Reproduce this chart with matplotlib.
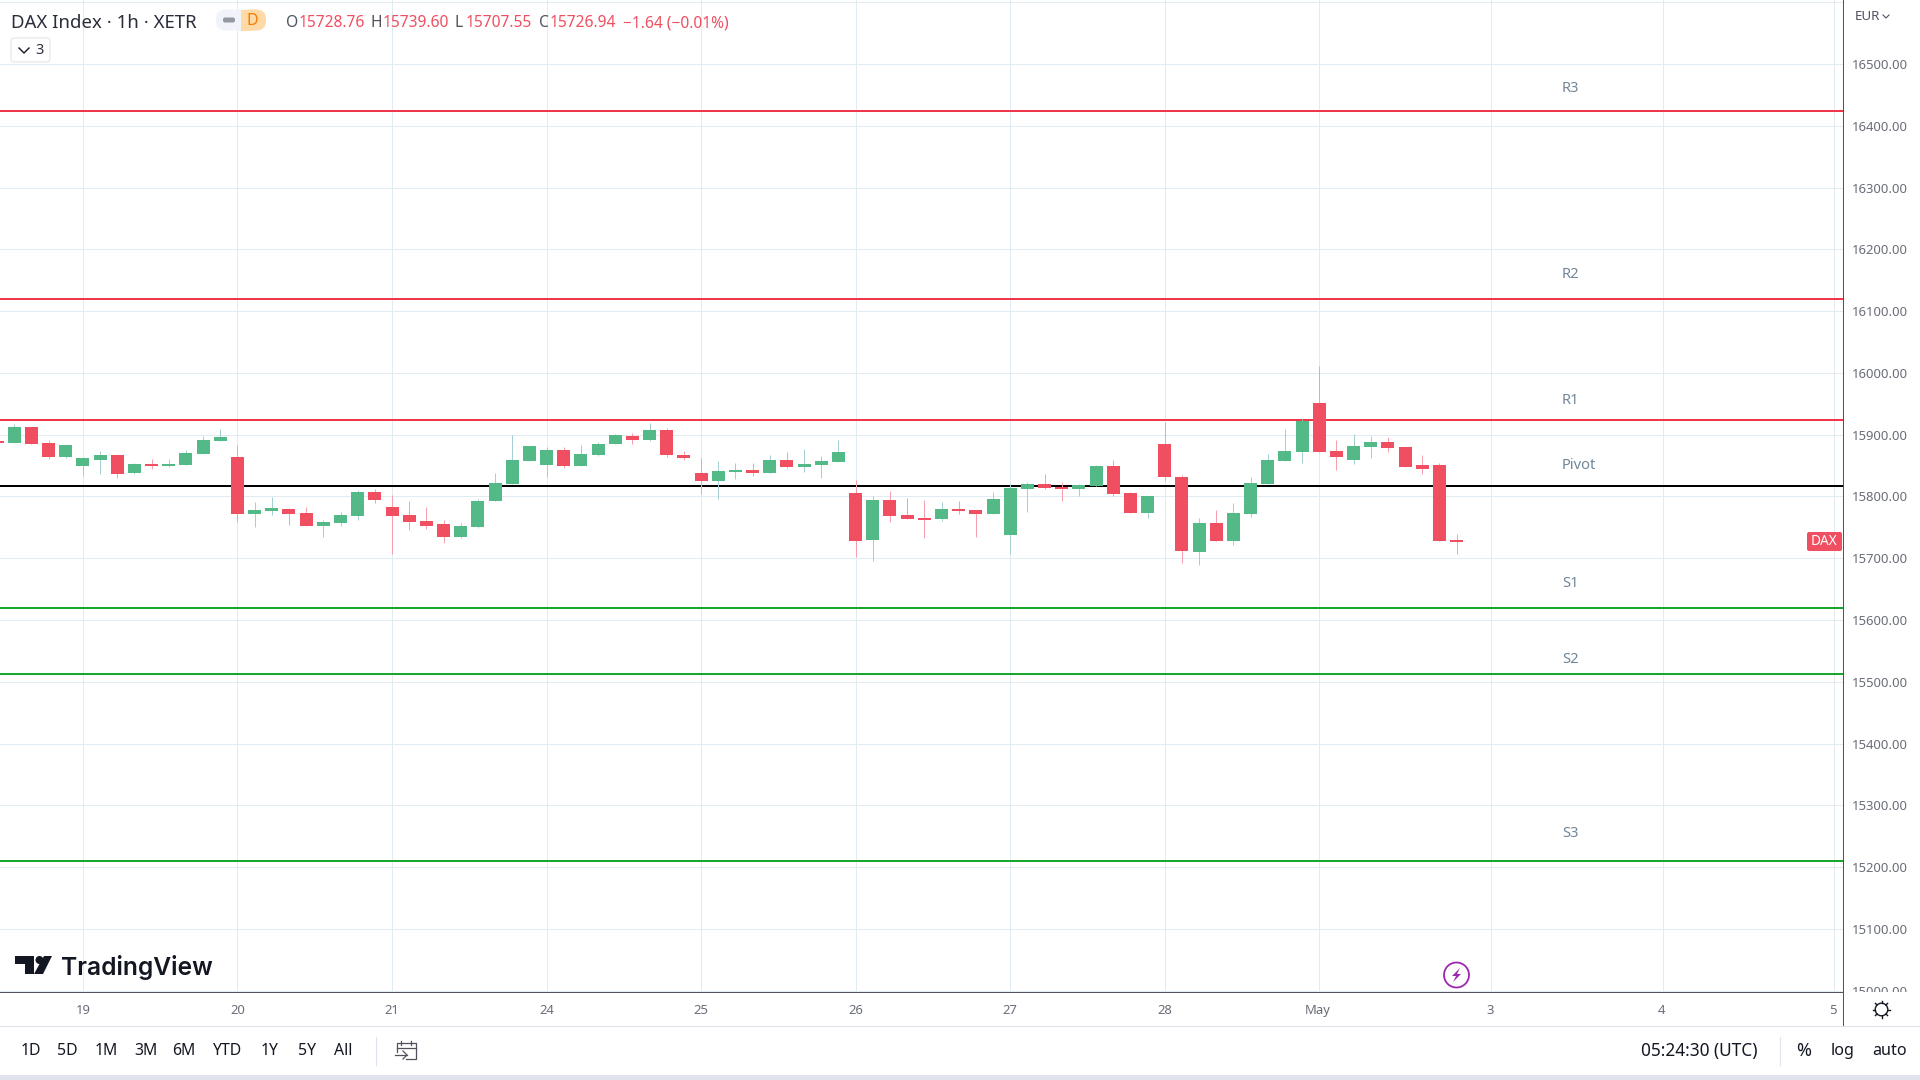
import matplotlib
matplotlib.use("Agg")
import matplotlib.pyplot as plt
import numpy as np
from matplotlib.patches import Rectangle, Polygon, Circle, FancyBboxPatch
from matplotlib.transforms import Bbox, ScaledTranslation

plt.rcParams['font.family'] = ['Noto Sans', 'DejaVu Sans']

opens = [15890.1,15886.8,15912.8,15886.8,15864.2,15849.6,15859.3,15867.4,15838.2,15852.8,
         15849.6,15851.2,15869.0,15890.1,15864.2,15771.8,15776.7,15779.9,15773.4,15752.4,
         15757.2,15768.6,15807.5,15783.2,15770.2,15760.5,15755.6,15734.6,15750.8,15792.9,
         15820.4,15857.7,15851.2,15875.5,15849.6,15867.4,15885.2,15898.2,15891.7,15907.9,
         15867.4,15838.2,15825.3,15839.9,15843.1,15838.2,15859.3,15848.0,15851.2,15856.1,
         15805.8,15729.7,15794.5,15770.2,15765.3,15763.7,15779.9,15778.3,15771.8,15737.8,
         15812.3,15820.4,15815.6,15812.3,15817.2,15849.6,15805.8,15773.4,15885.2,15831.8,
         15710.3,15757.2,15728.1,15771.8,15820.4,15857.7,15872.3,15951.6,15873.9,15859.3,
         15880.4,15888.5,15880.4,15851.2,15851.2,15728.76]
highs = [15890.1,15917.6,15912.8,15891.7,15883.6,15864.2,15873.9,15867.4,15854.4,15860.9,
         15860.9,15875.5,15898.2,15909.5,15883.6,15791.3,15799.4,15781.5,15783.2,15762.1,
         15775.1,15810.7,15812.3,15802.6,15792.9,15783.2,15762.1,15757.2,15796.1,15838.2,
         15899.8,15882.0,15880.4,15880.4,15883.6,15888.5,15901.4,15903.0,15919.2,15911.1,
         15873.9,15862.5,15857.7,15854.4,15854.4,15867.4,15872.3,15877.1,15865.8,15891.7,
         15826.9,15801.0,15809.1,15797.7,15794.5,15791.3,15792.9,15778.3,15807.5,15820.4,
         15823.7,15836.6,15823.7,15820.4,15851.2,15859.3,15807.5,15801.0,15920.9,15835.0,
         15765.3,15778.3,15789.6,15831.8,15869.0,15909.5,15925.0,16011.6,15891.7,15901.4,
         15898.2,15896.6,15880.4,15867.4,15854.4,15739.60]
lows = [15886.8,15886.8,15885.2,15860.9,15862.5,15833.4,15836.6,15830.1,15836.6,15844.7,
        15848.0,15851.2,15869.0,15890.1,15758.9,15750.8,15770.2,15754.0,15752.4,15734.6,
        15752.4,15762.1,15789.6,15707.0,15745.9,15747.5,15724.8,15732.9,15749.1,15792.9,
        15820.4,15857.7,15831.8,15846.3,15849.6,15865.8,15885.2,15885.2,15890.1,15864.2,
        15859.3,15804.2,15796.1,15828.5,15833.4,15838.2,15846.3,15839.9,15830.1,15856.1,
        15702.2,15695.7,15758.9,15763.7,15732.9,15760.5,15771.8,15734.6,15771.8,15707.0,
        15775.1,15812.3,15792.9,15801.0,15817.2,15801.0,15773.4,15765.3,15825.3,15692.4,
        15689.2,15728.1,15721.6,15767.0,15820.4,15857.7,15854.4,15872.3,15843.1,15852.8,
        15862.5,15872.3,15848.0,15836.6,15728.1,15707.55]
closes = [15886.8,15912.8,15885.2,15864.2,15883.6,15862.5,15867.4,15836.6,15852.8,15849.6,
          15852.8,15870.6,15891.7,15896.6,15771.8,15778.3,15781.5,15771.8,15752.4,15758.9,
          15770.2,15807.5,15794.5,15768.6,15758.9,15752.4,15734.6,15752.4,15792.9,15822.0,
          15859.3,15882.0,15875.5,15849.6,15869.0,15885.2,15899.8,15891.7,15907.9,15867.4,
          15862.5,15825.3,15841.5,15843.1,15838.2,15859.3,15848.0,15852.8,15857.7,15872.3,
          15728.1,15794.5,15768.6,15763.7,15763.7,15779.9,15776.7,15771.8,15796.1,15813.9,
          15820.4,15813.9,15812.3,15818.8,15849.6,15804.2,15773.4,15801.0,15831.8,15711.9,
          15757.2,15728.1,15773.4,15822.0,15859.3,15873.9,15922.5,15872.3,15864.2,15882.0,
          15888.5,15878.7,15848.0,15844.7,15728.1,15726.94]

level_names = ['R3', 'R2', 'R1', 'Pivot', 'S1', 'S2', 'S3']
level_values = [16424.5, 16120.1, 15924.0, 15817.2, 15619.8, 15512.4, 15209.6]
level_colors = ['#f2364a', '#f2364a', '#f2364a', '#000000', '#17a62e', '#17a62e', '#17a62e']
level_label_prices = [16461.0, 16160.0, 15956.0, 15849.5, 15658.5, 15535.5, 15254.0]

y_ticks = [15000 + 100 * k for k in range(17)]
y_labels = ['%d.00' % v if v != 16600 else '' for v in y_ticks]
x_ticks = [5, 14, 23, 32, 41, 50, 59, 68, 77, 87, 97, 107]
x_labels = ['19', '20', '21', '24', '25', '26', '27', '28', 'May', '3', '4', '5']

W, H = 1920, 1080
fig = plt.figure(figsize=(19.2, 10.8), dpi=100, facecolor='white')
ax = fig.add_axes([0, (H - 992) / H, 1843 / W, 992 / H])
ax.set_facecolor('white')
ax.set_xlim(0.17, 107.5)
ax.set_ylim(14997.9, 16603.6)

GRID = '#e1ecf2'
AXIS = '#50535e'
TICK = '#6a6d78'
px = 0.72
ax.set_axisbelow(True)
ax.grid(True, color=GRID, lw=px)
for s in ('top', 'left'):
    ax.spines[s].set_visible(False)
for s in ('right', 'bottom'):
    ax.spines[s].set_color(AXIS)
    ax.spines[s].set_linewidth(px)
ax.yaxis.tick_right()
ax.set_yticks(y_ticks)
ax.set_yticklabels(y_labels, fontsize=9.4, color=TICK)
ax.set_xticks(x_ticks)
ax.set_xticklabels(x_labels, fontsize=9.4, color=TICK)
ax.tick_params(axis='y', length=0, pad=6.3)
ax.tick_params(axis='x', length=0, pad=8.4)
nudge = ScaledTranslation(-1.3 / 100, 0, fig.dpi_scale_trans)
for lab in ax.get_xticklabels():
    if lab.get_text() in ('May', '3', '4', '5'):
        lab.set_transform(lab.get_transform() + nudge)
    if lab.get_text() == 'May':
        lab.set_fontweight('bold')

clip_px = Bbox([[0, H - 992], [W, H]])
for lab in ax.get_yticklabels():
    lab.set_clip_box(clip_px)
    lab.set_clip_on(True)

for name, v, c, lp in zip(level_names, level_values, level_colors, level_label_prices):
    ax.axhline(v, color=c, lw=1.44, zorder=2)
    ax.text(91.13, lp, name, fontsize=10.6, color='#728699', va='center', ha='left', zorder=2)

idx = np.arange(len(opens))
o, h, l, c = map(np.array, (opens, highs, lows, closes))
up = c >= o
MIN_BODY = 3.2  # a body is never thinner than about two pixels
body = np.maximum(np.abs(c - o), MIN_BODY)
ax.vlines(idx[up], l[up], h[up], color='#a5cfd3', lw=px, zorder=3)
ax.vlines(idx[~up], l[~up], h[~up], color='#f6a0ae', lw=px, zorder=3)
ax.bar(idx[up], body[up], bottom=o[up], width=0.757, color='#53b987', zorder=4)
ax.bar(idx[~up], body[~up], bottom=(o - body)[~up], width=0.757, color='#ef4f60', zorder=4)

# chrome overlay in pixel coordinates
ov = fig.add_axes([0, 0, 1, 1], zorder=5)
ov.set_xlim(0, W)
ov.set_ylim(H, 0)
ov.axis('off')
ov.patch.set_alpha(0)

DARK = '#131722'
def T(x, y, s, size=11.4, color=DARK, ha='left', **kw):
    ov.text(x, y, s, fontsize=size, color=color, ha=ha, va='center', **kw)

# header
T(11, 22.5, 'DAX Index · 1h · XETR', size=13.4, color='#2a2e39')
ov.add_patch(FancyBboxPatch((216, 9.5), 50, 21, boxstyle='round,pad=0,rounding_size=10', fc='#f0f3fa', ec='none'))
ov.add_patch(FancyBboxPatch((241, 9.5), 25, 21, boxstyle='round,pad=0,rounding_size=10', fc='#ffd9a6', ec='none'))
ov.add_patch(Rectangle((241, 9.5), 10, 21, fc='#ffd9a6', ec='none'))
ov.add_patch(FancyBboxPatch((223, 17.5), 12, 5, boxstyle='round,pad=0,rounding_size=2', fc='#9598a1', ec='none'))
T(252, 21, 'D', size=11.5, color='#f57c00', ha='center')
RED = '#ef4f60'
GREY = '#50535e'
for x, s, col in [(286, 'O', GREY), (299, '15728.76', RED), (371, 'H', GREY), (383, '15739.60', RED),
                  (455, 'L', GREY), (466, '15707.55', RED), (539, 'C', GREY), (550, '15726.94', RED),
                  (623, '−1.64 (−0.01%)', RED)]:
    T(x, 23, s, size=11.2, color=col)
ov.add_patch(FancyBboxPatch((11, 38), 39, 24, boxstyle='round,pad=0,rounding_size=3', fc='white', ec='#e0e3eb', lw=0.72))
ov.plot([19, 24, 29], [48, 53, 48], color=DARK, lw=1.0)
T(40, 50, '3', size=10.4, color='#2a2e39', ha='center')

# right axis header and DAX tag
T(1855, 16, 'EUR', size=9.6, color='#50535e')
ov.plot([1883, 1886, 1889], [15, 18, 15], color='#50535e', lw=0.8)
ov.add_patch(FancyBboxPatch((1807, 532), 35, 19, boxstyle='round,pad=0,rounding_size=2', fc='#ef4f60', ec='none'))
T(1824.5, 541.5, 'DAX', size=9.8, color='white', ha='center')

# axis continuation and separators
ov.plot([1843, 1843], [992, 1026], color=AXIS, lw=px)
ov.plot([0, W], [1026, 1026], color='#e0e3eb', lw=0.8)
ov.add_patch(Rectangle((0, 1075), W, 5, fc='#e0e3eb', ec='none'))
ov.plot([375.5, 375.5], [1037, 1065], color='#e0e3eb', lw=0.8)
ov.plot([1779.5, 1779.5], [1037, 1065], color='#e0e3eb', lw=0.8)

# logo
ov.add_patch(Polygon([(15, 956), (34, 956), (34, 974), (25, 974), (25, 964), (15, 964)], fc=DARK, ec='none'))
ov.add_patch(Circle((39.5, 960), 4, fc=DARK, ec='none'))
ov.add_patch(Polygon([(44, 956), (52, 956), (43, 974), (34, 974)], fc=DARK, ec='none'))
T(61, 967.5, 'TradingView', size=17.7, color=DARK, fontfamily='Inter', fontweight='semibold')

# lightning icon
ov.add_patch(Circle((1456.5, 975), 12.5, fc='white', ec='#9c27b0', lw=1.3))
ov.add_patch(Polygon([(1460, 968), (1452, 976), (1456, 976), (1453, 982), (1461, 974), (1457, 974)], fc='#9c27b0', ec='none'))

# gear icon
ov.add_patch(Circle((1881.5, 1009.5), 6.3, fc='white', ec=DARK, lw=1.0))
for ang in np.arange(0, 360, 45):
    a = np.deg2rad(ang)
    ov.plot([1881.5 + 6.3 * np.cos(a), 1881.5 + 8.6 * np.cos(a)],
            [1009.5 + 6.3 * np.sin(a), 1009.5 + 8.6 * np.sin(a)], color=DARK, lw=1.0)

# calendar icon
ov.plot([397, 397, 415.5, 415.5, 406], [1052, 1043, 1043, 1058.5, 1058.5], color=GREY, lw=0.9)
ov.plot([397, 415.5], [1047.5, 1047.5], color=GREY, lw=0.9)
ov.plot([401, 401], [1041, 1045], color=GREY, lw=0.9)
ov.plot([411, 411], [1041, 1045], color=GREY, lw=0.9)
ov.plot([395, 407], [1055, 1055], color=GREY, lw=0.9)
ov.plot([403, 407, 403], [1051, 1055, 1059], color=GREY, lw=0.9)

# bottom toolbar
for x, s in [(20.5, '1D'), (57.5, '5D'), (95, '1M'), (134, '3M'), (172.5, '6M'), (212.5, 'YTD'),
             (261, '1Y'), (298, '5Y'), (334, 'All')]:
    T(x, 1051, s)
T(1641, 1051, '05:24:30 (UTC)', size=12.4)
T(1796, 1051, '%', size=13)
T(1831, 1051, 'log', size=11.6)
T(1872, 1051, 'auto', size=11.6)

fig.savefig('out.png', dpi=100, facecolor='white')
